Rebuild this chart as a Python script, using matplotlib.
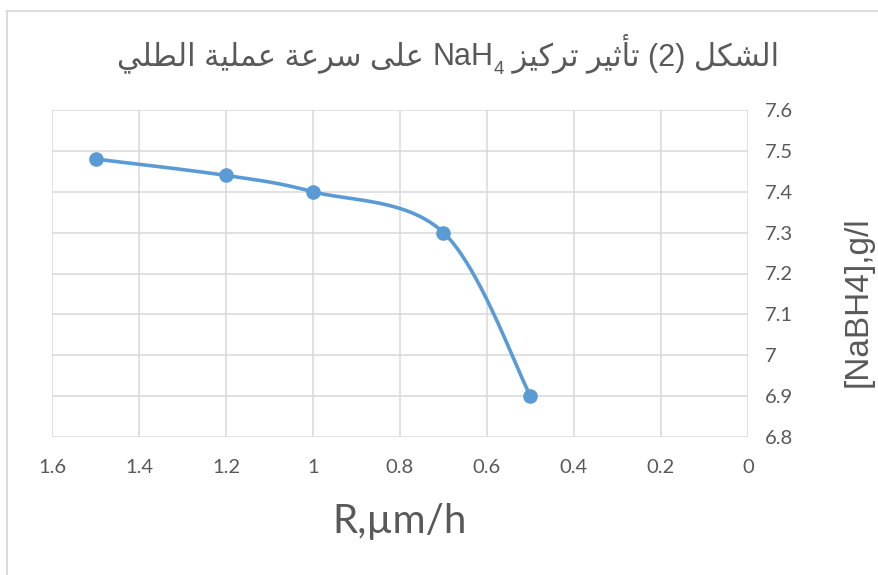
import numpy as np
import matplotlib
matplotlib.use("Agg")
import matplotlib.pyplot as plt
from matplotlib.lines import Line2D

# ---- data ----
rate = [1.5, 1.2, 1.0, 0.7, 0.5]          # R, um/h
conc = [7.48, 7.44, 7.40, 7.30, 6.90]     # [NaBH4], g/l
x_ticks = [1.6, 1.4, 1.2, 1.0, 0.8, 0.6, 0.4, 0.2, 0.0]
x_tick_labels = ["1.6", "1.4", "1.2", "1", "0.8", "0.6", "0.4", "0.2", "0"]
y_ticks = [6.8, 6.9, 7.0, 7.1, 7.2, 7.3, 7.4, 7.5, 7.6]
y_tick_labels = ["6.8", "6.9", "7", "7.1", "7.2", "7.3", "7.4", "7.5", "7.6"]
title_right_words = ["الشكل", "(2)", "تأثير", "تركيز"]   # logical order, before formula
title_formula = ("NaH", "4")
title_left_words = ["على", "سرعة", "عملية", "الطلي"]      # logical order, after formula
x_label = "R,\u00b5m/h"
y_label = "[NaBH4],g/l"

# ---- minimal Arabic shaping (presentation forms, visual order) ----
FORMS = {
    "ا": ("\uFE8D", "\uFE8E", None, None),
    "أ": ("\uFE83", "\uFE84", None, None),
    "ر": ("\uFEAD", "\uFEAE", None, None),
    "ز": ("\uFEAF", "\uFEB0", None, None),
    "ة": ("\uFE93", "\uFE94", None, None),
    "ى": ("\uFEEF", "\uFEF0", None, None),
    "ل": ("\uFEDD", "\uFEDE", "\uFEDF", "\uFEE0"),
    "ش": ("\uFEB5", "\uFEB6", "\uFEB7", "\uFEB8"),
    "ك": ("\uFED9", "\uFEDA", "\uFEDB", "\uFEDC"),
    "ت": ("\uFE95", "\uFE96", "\uFE97", "\uFE98"),
    "ث": ("\uFE99", "\uFE9A", "\uFE9B", "\uFE9C"),
    "ي": ("\uFEF1", "\uFEF2", "\uFEF3", "\uFEF4"),
    "ع": ("\uFEC9", "\uFECA", "\uFECB", "\uFECC"),
    "س": ("\uFEB1", "\uFEB2", "\uFEB3", "\uFEB4"),
    "م": ("\uFEE1", "\uFEE2", "\uFEE3", "\uFEE4"),
    "ط": ("\uFEC1", "\uFEC2", "\uFEC3", "\uFEC4"),
}


def dual(c):
    return c in FORMS and FORMS[c][2] is not None


def shape(word):
    if not any(c in FORMS for c in word):
        return word
    out = []
    for i, c in enumerate(word):
        if c not in FORMS:
            out.append(c)
            continue
        pj = i > 0 and dual(word[i - 1])
        nj = dual(c) and i + 1 < len(word) and word[i + 1] in FORMS
        f = FORMS[c]
        if pj and nj:
            out.append(f[3])
        elif pj:
            out.append(f[1])
        elif nj:
            out.append(f[2])
        else:
            out.append(f[0])
    return "".join(reversed(out))


left_visual = " ".join(shape(w) for w in reversed(title_left_words)) + " "
right_visual = " " + " ".join(shape(w) for w in reversed(title_right_words))

grey = "#595959"
fig = plt.figure(figsize=(8.79, 5.75), dpi=100)
ax = fig.add_axes([52 / 879, 1 - 437 / 575, (748 - 52) / 879, (437 - 110) / 575])

ax.set_xlim(1.6, 0)
ax.set_ylim(6.8, 7.6)
pts = ax.transData.transform(np.column_stack([rate, conc]))
n = len(pts)
curve = []
t = np.linspace(0, 1, 60)
for i in range(n - 1):
    p0 = pts[i]
    p3 = pts[i + 1]
    pm = pts[i - 1] if i > 0 else pts[i]
    pp = pts[i + 2] if i + 2 < n else pts[i + 1]
    c1 = p0 + (p3 - pm) / 6.0
    c2 = p3 - (pp - p0) / 6.0
    seg = ((1 - t) ** 3)[:, None] * p0 + (3 * (1 - t) ** 2 * t)[:, None] * c1 \
        + (3 * (1 - t) * t ** 2)[:, None] * c2 + (t ** 3)[:, None] * p3
    curve.append(seg)
curve = ax.transData.inverted().transform(np.vstack(curve))
ax.plot(curve[:, 0], curve[:, 1], color="#5B9BD5", lw=2.6, solid_capstyle="round", zorder=3)
ax.plot(rate, conc, "o", color="#5B9BD5", markersize=9.5, zorder=4)

ax.set_xticks(x_ticks)
ax.set_xticklabels(x_tick_labels)
ax.set_yticks(y_ticks)
ax.set_yticklabels(y_tick_labels)
ax.yaxis.tick_right()
ax.grid(True, color="#d9d9d9", lw=1.1)
ax.set_axisbelow(True)
for s in ax.spines.values():
    s.set_visible(False)
ax.tick_params(length=0, labelsize=14.5, labelcolor=grey)
ax.tick_params(axis="x", pad=16)
ax.tick_params(axis="y", pad=12)
for lab in ax.get_xticklabels() + ax.get_yticklabels():
    lab.set_family(["Lato", "DejaVu Sans"])

# ---- title assembled from pieces (with real subscript) ----
tfam = ["Liberation Sans", "DejaVu Sans"]
tsize = 22
ty = 1 - 65 / 575
renderer = fig.canvas.get_renderer()
pieces = [
    (left_visual, tsize, 0.0),
    (title_formula[0], tsize, 0.0),
    (title_formula[1], tsize * 0.62, -9 / 575),
    (right_visual, tsize, 0.0),
]
texts = []
for s, fs, dy in pieces:
    tx = fig.text(0, ty + dy, s, ha="left", va="baseline", fontsize=fs, color=grey, family=tfam)
    texts.append(tx)
widths = [tx.get_window_extent(renderer).width for tx in texts]
total = sum(widths)
x0 = 448 - total / 2
for tx, w in zip(texts, widths):
    tx.set_x(x0 / 879)
    x0 += w

fig.text(400 / 879, 1 - 522 / 575, x_label, ha="center", va="center",
         fontsize=29, color=grey, family=["Lato", "DejaVu Sans"])
fig.text(858 / 879, 1 - 302 / 575, y_label, ha="center", va="center", rotation=90,
         fontsize=24, color=grey, family=["Liberation Sans", "DejaVu Sans"])

# chart border (top and left visible in reference)
fig.add_artist(Line2D([7 / 879, 7 / 879], [0, 1 - 11 / 575], transform=fig.transFigure,
                      color="#d9d9d9", lw=1.3))
fig.add_artist(Line2D([7 / 879, 1], [1 - 11 / 575, 1 - 11 / 575], transform=fig.transFigure,
                      color="#d9d9d9", lw=1.3))

fig.savefig("out.png", dpi=100, facecolor="white")
